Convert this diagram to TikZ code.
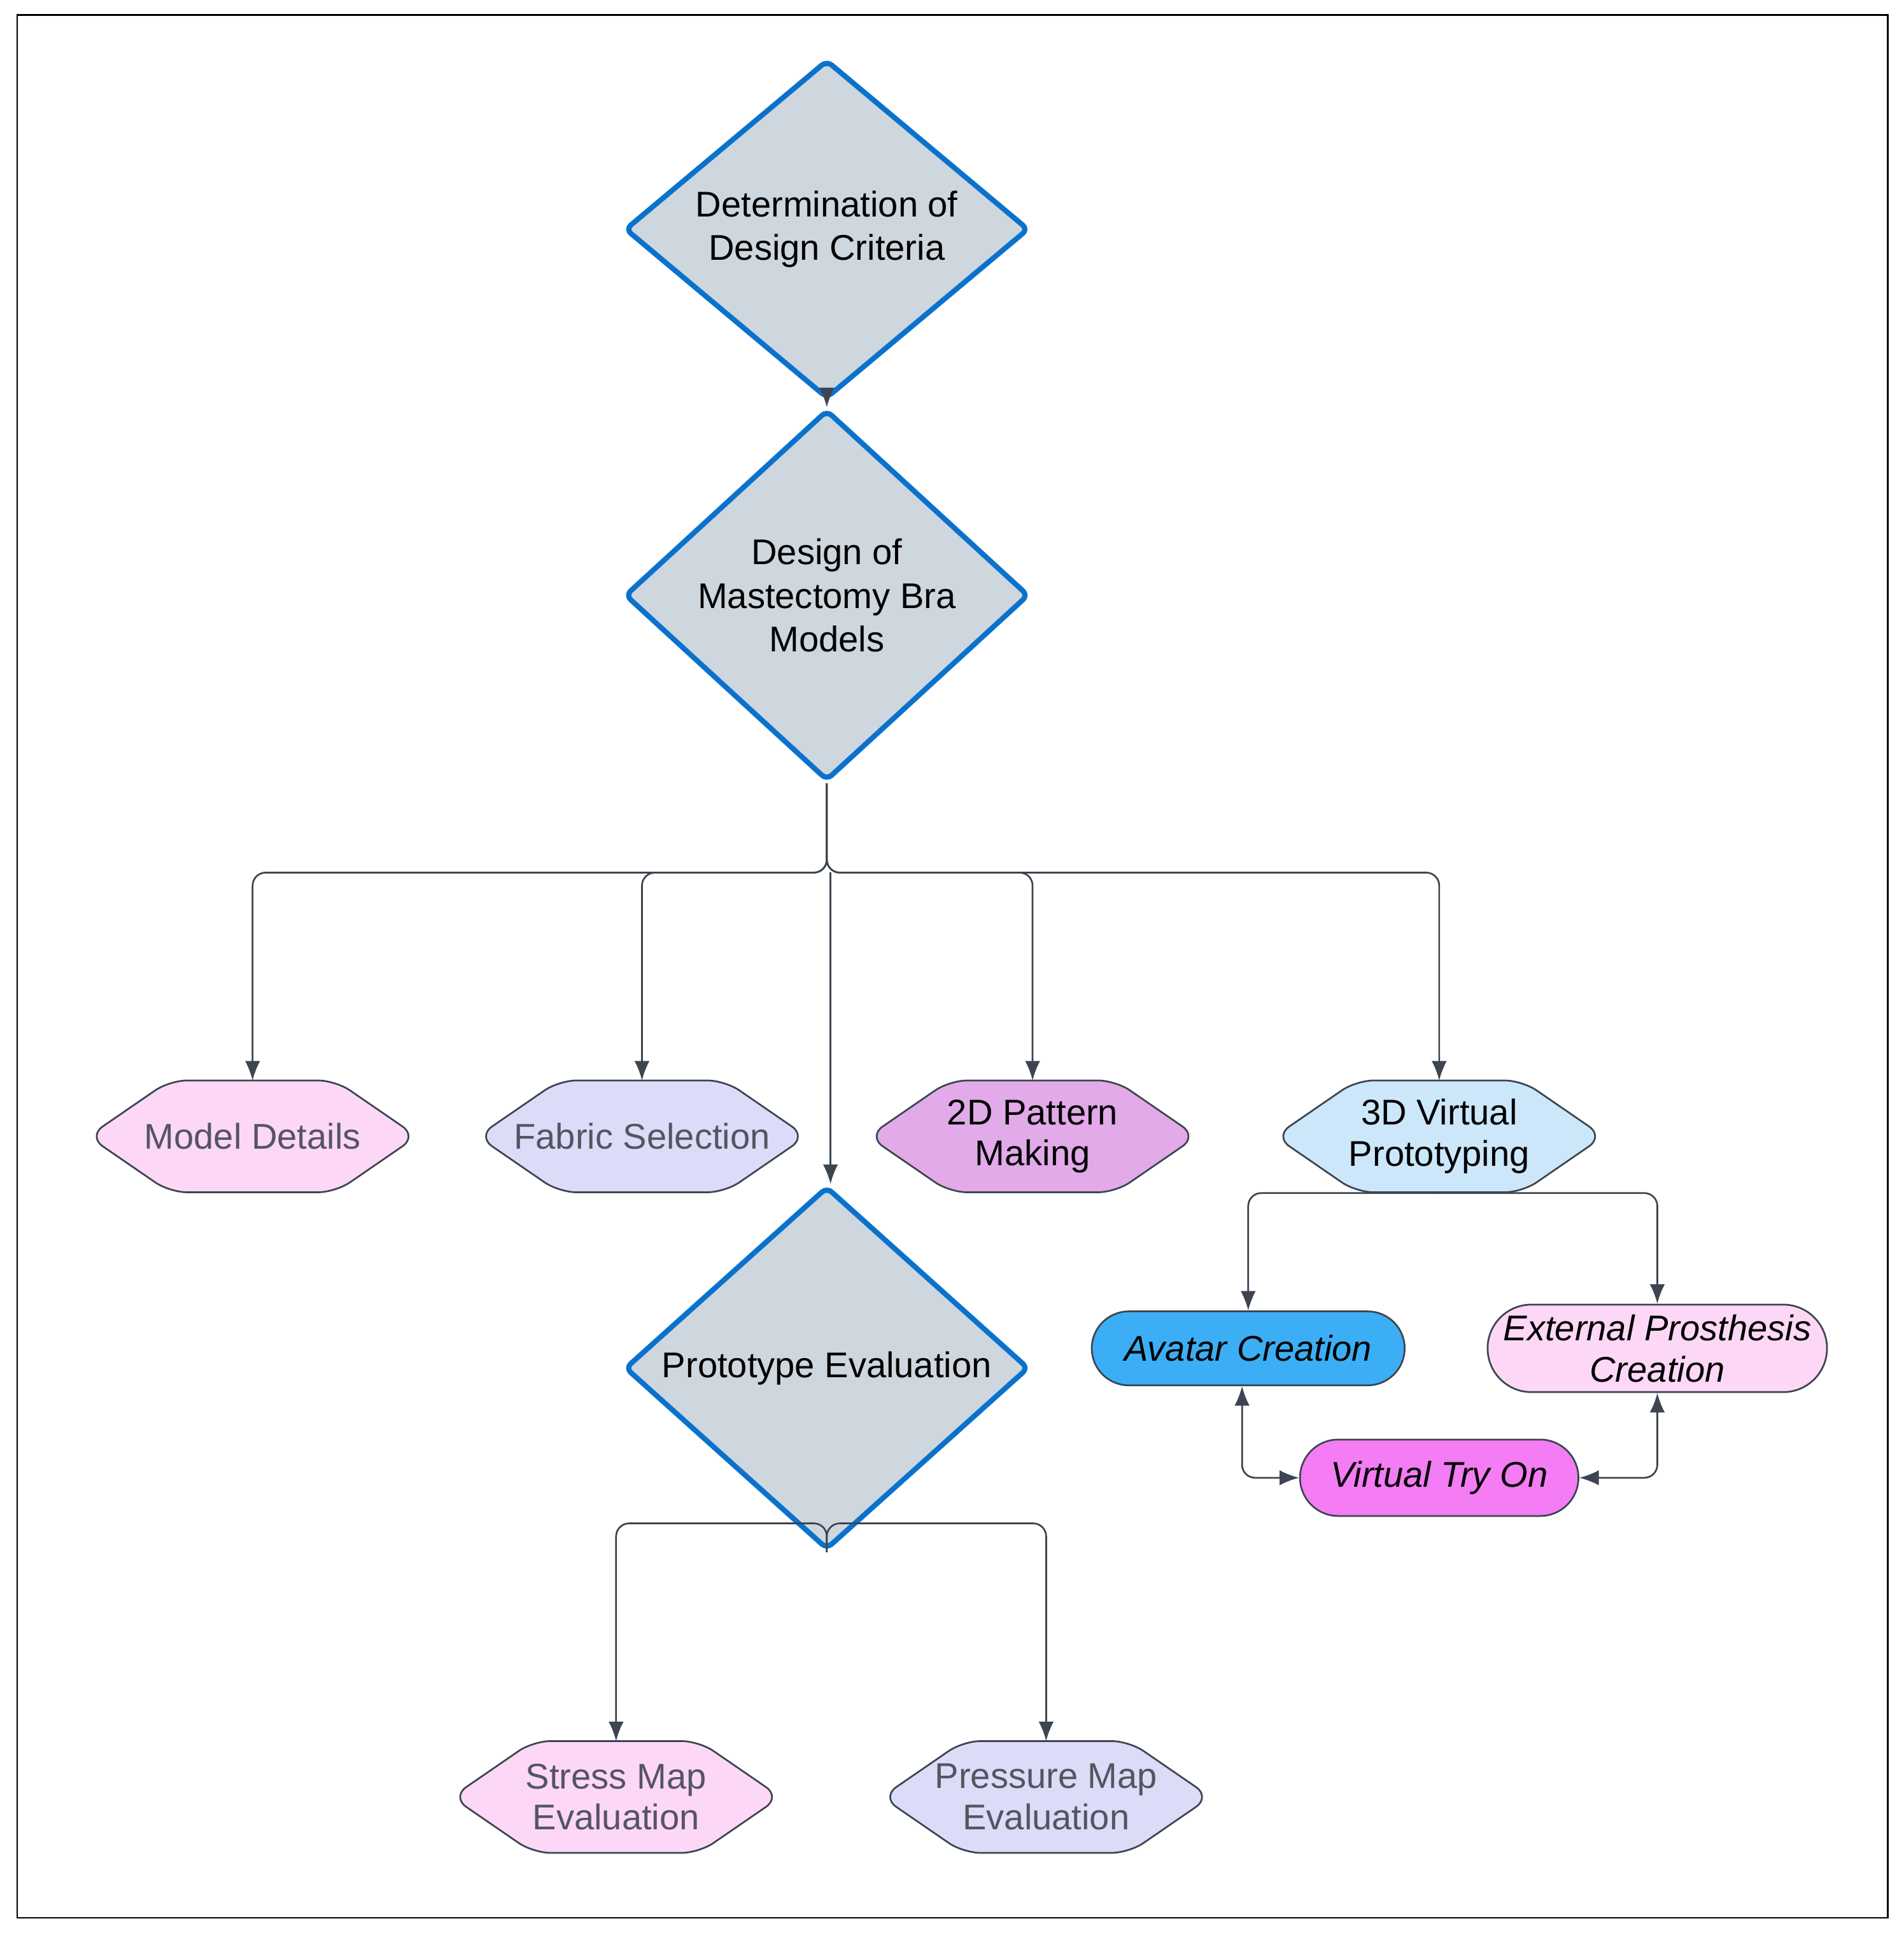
\documentclass[tikz,border=0pt]{standalone}
\usepackage{fontspec}
\setmainfont{Liberation Sans}
\usetikzlibrary{shapes.geometric,arrows.meta}
\tikzset{>={Latex[length=9pt,width=7pt]}}
\definecolor{dgray}{HTML}{CED6DE}
\definecolor{dblue}{HTML}{0A72CC}
\definecolor{lnk}{HTML}{3C4550}
\definecolor{pinkf}{HTML}{FDD8F6}
\definecolor{lavf}{HTML}{DCDCF9}
\definecolor{purpf}{HTML}{E2AAE8}
\definecolor{bluef}{HTML}{CDE7FA}
\definecolor{avaf}{HTML}{3BAEF5}
\definecolor{tryf}{HTML}{F47CF4}
\definecolor{gtext}{HTML}{555560}
\tikzset{
  decision/.style={diamond, draw=dblue, line width=2.4pt, fill=dgray, rounded corners=3pt,
    minimum width=6.56cm, minimum height=4.74cm, inner sep=0pt, align=center,
    font=\fontsize{16.5}{20}\selectfont},
  task/.style={minimum width=5.32cm, minimum height=1.8cm, inner sep=0pt, align=center,
    font=\fontsize{16.5}{19}\selectfont},
  pill/.style={rounded rectangle, draw=lnk, line width=0.8pt, align=center, inner sep=0pt,
    font=\itshape\fontsize{16.5}{19}\selectfont},
  arr/.style={->, draw=lnk, line width=0.8pt, rounded corners=6pt},
  dbl/.style={<->, draw=lnk, line width=0.8pt, rounded corners=6pt},
}
\usetikzlibrary{shapes.misc}
% hexagon node: name, position, fill, text colour, text
\newcommand\hexnode[5]{%
  \node[task, text=#4] (#1) at (#2) {#5};
  \draw[draw=lnk, line width=0.8pt, fill=#3, rounded corners=8pt]
    (#1.west) -- ([xshift=1.32cm]#1.north west) -- ([xshift=-1.32cm]#1.north east)
    -- (#1.east) -- ([xshift=-1.32cm]#1.south east) -- ([xshift=1.32cm]#1.south west) -- cycle;
  \node[task, text=#4] at (#2) {#5};
}
\begin{document}
\begin{tikzpicture}[x=0.02cm, y=-0.02cm]
	\useasboundingbox (0,0) rectangle (1545,1570);
	\draw[line width=0.8pt] (14,12) rectangle (1532,1556);
	\node[decision] (crit) at (671,186) {Determination of\\Design Criteria};
	\node[decision] (model) at (671,483) {Design of\\Mastectomy Bra\\Models};
	\node[decision] (proto) at (671,1110) {Prototype Evaluation};
	\hexnode{det}{205,922}{pinkf}{gtext}{Model Details}
	\hexnode{fab}{521,922}{lavf}{gtext}{Fabric Selection}
	\hexnode{pat}{838,922}{purpf}{black}{2D Pattern\\Making}
	\hexnode{vir}{1168,922}{bluef}{black}{3D Virtual\\Prototyping}
	\hexnode{str}{500,1458}{pinkf}{gtext}{Stress Map\\Evaluation}
	\hexnode{pre}{849,1458}{lavf}{gtext}{Pressure Map\\Evaluation}
	\node[pill, fill=avaf, minimum width=5.08cm, minimum height=1.2cm] (ava) at (1013,1094) {Avatar Creation};
	\node[pill, fill=pinkf, minimum width=5.32cm, minimum height=1.42cm] (ext) at (1345,1094) {External Prosthesis\\Creation};
	\node[pill, fill=tryf, minimum width=4.52cm, minimum height=1.24cm] (try) at (1168,1199) {Virtual Try On};
	\coordinate (bus) at (671,708);
	\coordinate (bus2) at (671,1236);
	\coordinate (bus3) at (1168,968);
	\draw[arr] (crit) -- (model);
	\draw[arr] (model.south) -- (bus) -| (det.north);
	\draw[arr] (model.south) -- (bus) -| (fab.north);
	\draw[arr] (model.south) -- (bus) -| (pat.north);
	\draw[arr] (model.south) -- (bus) -| (vir.north);
	\draw[arr] ([xshift=0.06cm]bus) -- ([xshift=0.06cm]proto.north);
	\draw[arr] (proto.south) -- (bus2) -| (str.north);
	\draw[arr] (proto.south) -- (bus2) -| (pre.north);
	\draw[arr] (bus3) -| (ava.north);
	\draw[arr] (bus3) -| (ext.north);
	\draw[dbl] (try.west) -| ([xshift=-0.1cm]ava.south);
	\draw[dbl] (try.east) -| (ext.south);
\end{tikzpicture}
\end{document}
